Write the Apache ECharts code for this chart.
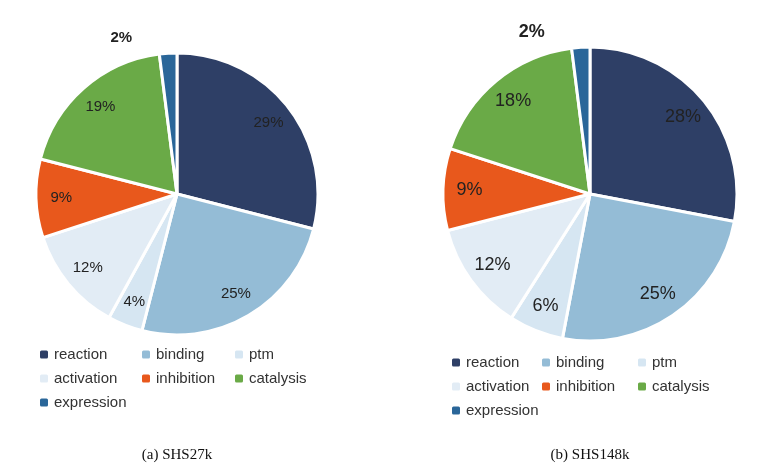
<!DOCTYPE html>
<html><head><meta charset="utf-8">
<script src="https://cdn.jsdelivr.net/npm/echarts@6/dist/echarts.min.js"></script>
<style>html,body{margin:0;background:#fff}#c{width:766px;height:474px}</style>
</head><body><div id="c"></div>
<script>
const categories = ['reaction','binding','ptm','activation','inhibition','catalysis','expression'];
const shs27k = [29,25,4,12,9,19,2];
const shs148k = [28,25,6,12,9,18,2];
const colors = ['#2e3f66','#94bcd6','#d6e6f2','#e2ecf5','#e8581c','#6aaa47','#2a6699'];
const captions = ['(a) SHS27k','(b) SHS148k'];

const pies = [
  {vals: shs27k, c:[177,194], r:141, fs:15, leg:{xs:[38,140,233], ys:[355,379,403], fs:15}},
  {vals: shs148k, c:[590,194], r:147, fs:18, leg:{xs:[450,540,636], ys:[363,387,411], fs:15}}
];
const series = [], legends = [], graphics = [];
pies.forEach((p, k) => {
  const data = categories.map((n,i)=>({name:n, value:p.vals[i], itemStyle:{color:colors[i]}}));
  series.push({type:'pie', center:p.c, radius:[0,p.r], startAngle:90, clockwise:true,
    silent:true, label:{show:false}, labelLine:{show:false},
    itemStyle:{borderColor:'#fff', borderWidth:3}, data});
  series.push({type:'pie', center:p.c, radius:[p.r*0.6,p.r], startAngle:90, clockwise:true,
    silent:true, labelLine:{show:false},
    itemStyle:{color:'rgba(0,0,0,0)', borderWidth:0},
    label:{show:true, position:'inside', formatter:'{c}%', fontSize:p.fs, color:'#222', fontFamily:'Liberation Sans'},
    data: categories.map((n,i)=>({name:n, value:p.vals[i],
      label: n==='expression' ? {position:'outside', distance:4, fontWeight:'bold', color:'#222'} : {}}))});
  categories.forEach((n,i)=>{
    legends.push({data:[n], left:p.leg.xs[i%3], top:p.leg.ys[Math.floor(i/3)]-8,
      itemWidth:10, itemHeight:10, itemGap:0, padding:0, selectedMode:false,
      textStyle:{fontSize:p.leg.fs, color:'#333', fontFamily:'Liberation Sans Narrow, Liberation Sans'}});
  });
  graphics.push({type:'text', x:p.c[0], y:455, style:{text:captions[k], align:'center', verticalAlign:'middle',
    font:'15px "Liberation Serif", serif', fill:'#111'}});
});
const chart = echarts.init(document.getElementById('c'));
chart.setOption({animation:false, color:colors, legend:legends, series, graphic:graphics});
</script></body></html>
